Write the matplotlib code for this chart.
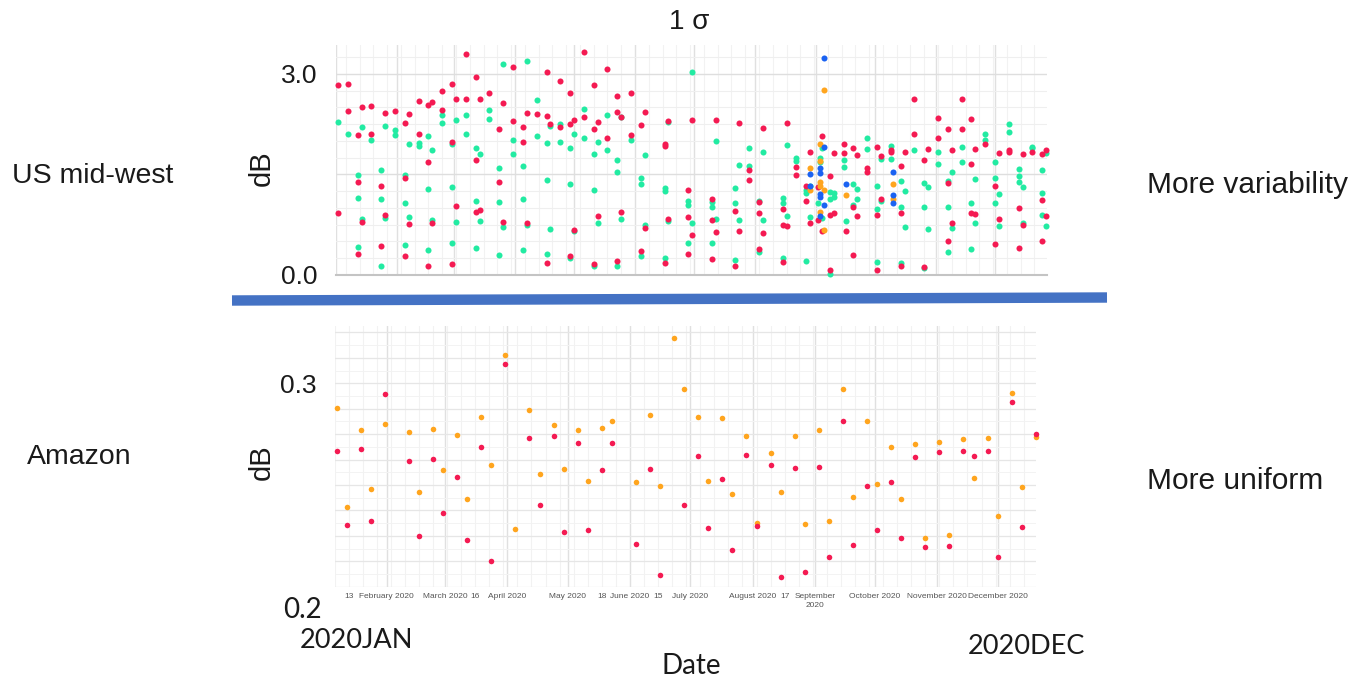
import numpy as np
import matplotlib
matplotlib.use("Agg")
import matplotlib.pyplot as plt
import matplotlib.dates as mdates
from matplotlib.lines import Line2D

# ---------------------------------------------------------------------------
# Data: day offsets from 2020-01-01 and the measured spread in dB
# ---------------------------------------------------------------------------

# US mid-west, series A (red)
mw_a_days = [1, 6, 6, 11, 13, 18, 18, 25, 30, 35, 37, 42, 42, 47, 49, 54, 54, 59, 61, 66,
             66, 71, 73, 78, 85, 90, 90, 83, 59, 71, 47, 11, 23, 35, 83, 61, 71, 73, 1, 13,
             25, 37, 49, 85, 23, 11, 35, 47, 59,
             95, 95, 97, 97, 102, 107, 107, 107, 109, 114, 114, 119, 119, 119, 121, 121, 126,
             126, 131, 131, 131, 133, 133, 138, 138, 143, 143, 143, 145, 145, 150, 150, 155,
             155, 157, 157, 167, 167, 167, 169, 169, 179, 179, 179, 181, 181,
             193, 205, 217, 229, 191, 191, 193, 191, 203, 205, 203, 210, 210, 215, 215, 217,
             215, 227, 227, 229, 227, 234, 234, 239, 239, 241, 241, 245, 245, 247, 247, 251,
             251, 251, 253, 253, 258, 258, 263, 263, 263, 265, 265, 270, 270, 259,
             275, 275, 275, 277, 277, 282, 282, 287, 287, 287, 289, 294, 294, 299, 299, 301,
             306, 306, 311, 311, 311, 313, 313, 318, 318, 323, 323, 323, 325, 325, 330, 335,
             335, 337, 337, 342, 342, 347, 347, 349, 349, 354, 359, 359, 359, 361, 361]
mw_a_db = [2.84, 2.85, 2.44, 2.09, 2.50, 2.52, 2.10, 2.41, 2.45, 2.26, 2.40, 2.60, 2.10, 2.53,
           2.58, 2.75, 2.46, 2.85, 2.63, 3.30, 2.62, 2.96, 2.62, 2.72, 2.57, 3.10, 2.30, 2.18,
           1.99, 1.71, 1.69, 1.38, 1.33, 1.45, 1.39, 1.03, 0.94, 0.97, 0.93, 0.79, 0.90, 0.76,
           0.77, 0.79, 0.43, 0.32, 0.28, 0.13, 0.17,
           2.20, 1.99, 2.41, 0.77, 2.40, 3.02, 2.37, 0.18, 2.25, 2.89, 2.21, 2.72, 2.25, 0.29,
           2.31, 0.67, 3.32, 2.35, 2.83, 2.17, 0.17, 2.28, 0.88, 3.07, 2.05, 2.67, 2.43, 0.21,
           2.36, 0.94, 2.71, 2.09, 2.24, 0.36, 2.43, 0.70, 1.95, 1.92, 0.18, 2.30, 0.83, 1.27,
           0.86, 0.32, 2.31, 0.60,
           2.31, 2.26, 2.19, 2.27, 1.13, 0.82, 0.64, 0.24, 0.96, 0.66, 0.14, 1.56, 1.41, 1.09,
           0.92, 0.62, 0.39, 0.98, 0.75, 0.73, 0.19, 1.61, 1.49, 1.33, 1.10, 1.84, 0.78, 1.31,
           0.82, 2.07, 0.66, 1.48, 0.90, 0.07, 1.82, 0.93, 1.95, 1.82, 1.89, 1.01, 0.30, 1.79,
           0.88, 1.59, 1.54, 0.66,
           1.91, 0.90, 0.07, 1.77, 1.13, 1.87, 1.84, 1.62, 0.92, 0.13, 1.83, 2.63, 2.11, 1.72,
           0.12, 1.88, 2.34, 2.04, 2.17, 1.37, 0.50, 1.87, 0.78, 2.62, 2.17, 2.33, 1.65, 0.92,
           1.88, 0.91, 1.95, 1.33, 0.46, 1.82, 0.84, 1.87, 1.84, 1.00, 0.41, 1.81, 0.75, 1.84,
           1.81, 1.12, 0.50, 1.87, 0.88]

# US mid-west, series B (green)
mw_b_days = [1, 6, 11, 11, 11, 13, 13, 18, 23, 23, 23, 25, 25, 30, 30, 35, 35, 35, 37, 37,
             42, 42, 47, 47, 47, 49, 49, 54, 54, 59, 59, 59, 61, 61, 66, 66, 71, 71, 71, 73,
             73, 78, 78, 83, 83, 83, 85, 85, 90, 90,
             95, 95, 95, 97, 97, 102, 102, 107, 107, 107, 109, 109, 114, 114, 119, 119, 119,
             121, 121, 126, 126, 131, 131, 131, 133, 133, 138, 138, 143, 143, 143, 145, 145,
             150, 155, 155, 155, 157, 157, 167, 167, 167, 169, 169, 179, 179, 179, 181, 181,
             193, 191, 191, 193, 191, 203, 203, 205, 205, 203, 210, 210, 215, 217, 217, 215,
             227, 227, 229, 229, 227, 234, 234, 239, 239, 239, 241, 241, 246, 246, 247, 247,
             245, 251, 253, 253, 251, 258, 258, 259, 263, 263, 265, 265, 270, 270, 251,
             275, 275, 275, 277, 277, 282, 282, 287, 287, 287, 289, 289, 294, 299, 299, 299,
             301, 301, 306, 306, 311, 311, 311, 313, 313, 318, 318, 323, 323, 325, 325, 330,
             330, 335, 335, 335, 337, 337, 342, 342, 347, 347, 347, 349, 349, 354, 354, 359,
             359, 359, 361, 361]
mw_b_db = [2.28, 2.11, 1.49, 1.15, 0.42, 2.21, 0.83, 2.02, 1.56, 1.13, 0.14, 2.22, 0.85, 2.16,
           2.09, 1.49, 1.08, 0.44, 1.96, 0.87, 1.97, 1.93, 2.07, 1.28, 0.38, 1.87, 0.82, 2.38,
           2.27, 1.95, 1.31, 0.47, 2.31, 0.79, 2.39, 2.10, 1.90, 1.10, 0.40, 1.80, 0.81, 2.46,
           2.32, 1.60, 1.09, 0.30, 3.14, 0.72, 2.02, 1.80,
           1.63, 1.13, 0.37, 3.19, 0.74, 2.61, 2.07, 1.97, 1.41, 0.31, 2.22, 0.68, 2.25, 1.98,
           1.89, 1.36, 0.26, 2.11, 0.65, 2.47, 2.05, 1.81, 1.27, 0.13, 1.98, 0.77, 2.39, 1.87,
           1.72, 1.54, 0.13, 2.35, 0.84, 2.01, 1.45, 1.35, 0.28, 1.79, 0.75, 1.30, 1.26, 0.25,
           2.28, 0.81, 1.10, 1.05, 0.47, 3.02, 0.77,
           2.00, 1.09, 1.01, 0.84, 0.48, 1.29, 1.08, 1.64, 0.82, 0.23, 1.90, 1.62, 1.11, 1.84,
           0.82, 0.35, 1.15, 1.08, 1.94, 0.88, 0.26, 1.74, 1.70, 1.27, 1.23, 0.21, 0.86, 1.32,
           1.74, 1.69, 1.89, 0.85, 1.08, 1.24, 1.23, 1.17, 1.13, 1.71, 1.61, 0.80, 1.35, 1.05,
           1.28, 1.13, 2.04, 1.88, 0.02,
           1.33, 0.98, 0.20, 1.73, 1.10, 1.93, 1.73, 1.40, 1.02, 0.18, 1.26, 0.71, 1.86, 1.37,
           1.02, 0.11, 1.31, 0.69, 1.84, 1.66, 1.40, 1.02, 0.35, 1.53, 0.70, 1.91, 1.69, 1.08,
           0.39, 1.43, 0.78, 2.11, 2.01, 1.68, 1.44, 1.07, 1.21, 0.73, 2.25, 2.13, 1.58, 1.48,
           1.39, 1.31, 0.77, 1.91, 1.89, 1.57, 1.23, 0.89, 1.82, 0.73]

# US mid-west, series C (orange)
mw_c_days = [248, 246, 241, 246, 246, 246, 241, 248, 246, 248, 259, 283, 283]
mw_c_db = [2.76, 1.96, 1.60, 1.70, 1.38, 1.33, 1.27, 1.27, 0.94, 0.67, 1.20, 1.35, 1.13]

# US mid-west, series D (blue)
mw_d_days = [248, 248, 246, 246, 241, 241, 246, 246, 248, 246, 259, 283, 283, 283]
mw_d_db = [3.23, 1.91, 1.60, 1.52, 1.50, 1.32, 1.21, 1.16, 1.05, 0.88, 1.35, 1.54, 1.19, 1.08]

# Amazon, series A (red)
amz_a_days = [6, 11, 18, 23, 30, 42, 47, 54, 59, 66, 71, 78, 83, 90, 102, 107, 114, 119, 126,
              131, 138, 143, 155, 162, 167, 179, 186, 191, 198, 203, 210, 215, 222, 227, 234,
              239, 246, 251, 258, 263, 270, 275, 282, 287, 294, 299, 306, 311, 318, 323, 330,
              335, 342, 347, 354]
amz_a_db = [0.2706, 0.2380, 0.2713, 0.2397, 0.2951, 0.2662, 0.2332, 0.2671, 0.2434, 0.2591,
            0.2316, 0.2722, 0.2223, 0.3083, 0.2761, 0.2470, 0.2770, 0.2349, 0.2738, 0.2360,
            0.2619, 0.2739, 0.2298, 0.2626, 0.2164, 0.2466, 0.2683, 0.2368, 0.2582, 0.2271,
            0.2687, 0.2376, 0.2643, 0.2154, 0.2630, 0.2176, 0.2635, 0.2239, 0.2834, 0.2293,
            0.2553, 0.2358, 0.2569, 0.2326, 0.2677, 0.2284, 0.2700, 0.2290, 0.2705, 0.2684,
            0.2706, 0.2242, 0.2920, 0.2374, 0.2780]

# Amazon, series C (orange)
amz_c_days = [6, 11, 18, 23, 30, 42, 47, 54, 59, 66, 71, 78, 83, 90, 95, 102, 107, 114, 119,
              126, 131, 138, 143, 155, 162, 167, 174, 179, 186, 191, 198, 203, 210, 215, 222,
              227, 234, 239, 246, 251, 258, 263, 270, 275, 282, 287, 294, 299, 306, 311, 318,
              323, 330, 335, 342, 347, 354]
amz_c_db = [0.2891, 0.2459, 0.2795, 0.2540, 0.2824, 0.2786, 0.2525, 0.2801, 0.2622, 0.2774,
            0.2495, 0.2853, 0.2643, 0.3124, 0.2365, 0.2885, 0.2604, 0.2817, 0.2624, 0.2795,
            0.2575, 0.2805, 0.2837, 0.2569, 0.2863, 0.2553, 0.3198, 0.2974, 0.2852, 0.2575,
            0.2850, 0.2518, 0.2770, 0.2389, 0.2694, 0.2524, 0.2770, 0.2386, 0.2796, 0.2399,
            0.2977, 0.2502, 0.2834, 0.2562, 0.2721, 0.2496, 0.2734, 0.2322, 0.2742, 0.2335,
            0.2757, 0.2584, 0.2760, 0.2418, 0.2956, 0.2546, 0.2766]

# Date axis labels of the lower panel
amz_tick_dates = ["2020-01-13", "2020-02-01", "2020-03-01", "2020-03-16", "2020-04-01",
                  "2020-05-01", "2020-05-18", "2020-06-01", "2020-06-15", "2020-07-01",
                  "2020-08-01", "2020-08-17", "2020-09-01", "2020-10-01", "2020-11-01",
                  "2020-12-01"]
amz_tick_labels = ["13", "February 2020", "March 2020", "16", "April 2020", "May 2020", "18",
                   "June 2020", "15", "July 2020", "August 2020", "17", "September\n2020",
                   "October 2020", "November 2020", "December 2020"]

# ---------------------------------------------------------------------------
RED = "#f41a52"
GREEN = "#22eba2"
ORANGE = "#ffa51e"
BLUE = "#1a62f2"

BASE = np.datetime64("2020-01-01")
BASE_NUM = mdates.date2num(BASE)
W, H = 1355, 682


def to_dates(days):
    return BASE + np.asarray(days).astype("timedelta64[D]")


def fig_box(left, top, right, bottom):
    return [left / W, 1 - bottom / H, (right - left) / W, (bottom - top) / H]


def date_grid(ax):
    mondays = np.arange(np.datetime64("2020-01-06"), np.datetime64("2021-01-01"), 7)
    months = np.arange(np.datetime64("2020-01"), np.datetime64("2021-01"),
                       dtype="datetime64[M]").astype("datetime64[D]")
    for d in mondays:
        ax.axvline(mdates.date2num(d), color="#f2f2f2", lw=0.8, zorder=0)
    for d in months:
        ax.axvline(mdates.date2num(d), color="#e0e0e0", lw=1.0, zorder=0)


SANS = ["Liberation Sans", "DejaVu Sans"]
HUMAN = ["Lato", "DejaVu Sans"]
INK = "#1a1a1a"

fig = plt.figure(figsize=(W / 100, H / 100), dpi=100)
fig.patch.set_facecolor("white")

# --------------------------- upper panel: US mid-west ----------------------
ax1 = fig.add_axes(fig_box(336, 45, 1047, 275))
ax1.set_xlim(BASE_NUM, BASE_NUM + 361.4)
ax1.set_ylim(0, 3.43)
date_grid(ax1)
for y in np.arange(0, 3.5, 0.25):
    strong = abs(y / 1.5 - round(y / 1.5)) < 1e-6
    ax1.axhline(y, color="#dedede" if strong else "#efefef", lw=1.0 if strong else 0.8, zorder=0)

ms = 19
ax1.scatter(to_dates(mw_b_days), mw_b_db, s=ms, color=GREEN, lw=0, zorder=3, clip_on=False)
ax1.scatter(to_dates(mw_a_days), mw_a_db, s=ms, color=RED, lw=0, zorder=3, clip_on=False)
ax1.scatter(to_dates(mw_c_days), mw_c_db, s=ms, color=ORANGE, lw=0, zorder=4, clip_on=False)
ax1.scatter(to_dates(mw_d_days), mw_d_db, s=ms, color=BLUE, lw=0, zorder=5, clip_on=False)

ax1.set_xticks([])
ax1.set_yticks([0.0, 3.0])
ax1.set_yticklabels(["0.0", "3.0"], fontsize=19, family=SANS, color=INK)
ax1.tick_params(axis="y", length=0, pad=13)
for side in ("top", "left", "right"):
    ax1.spines[side].set_visible(False)
ax1.spines["bottom"].set_color("#c4c4c4")
ax1.spines["bottom"].set_linewidth(1.5)

# --------------------------- lower panel: Amazon ---------------------------
ax2 = fig.add_axes(fig_box(335, 326, 1036, 587))
ax2.set_xlim(BASE_NUM + 5.2, BASE_NUM + 354.1)
ax2.set_ylim(0.2110, 0.3250)
date_grid(ax2)
step = 0.1 / 9
for k in range(-9, 3):
    ax2.axhline(0.3 + k * step, color="#e6e6e6", lw=0.9, zorder=0)
    ax2.axhline(0.3 + (k + 0.5) * step, color="#f3f3f3", lw=0.7, zorder=0)

ms2 = 16
ax2.scatter(to_dates(amz_c_days), amz_c_db, s=ms2, color=ORANGE, lw=0, zorder=3, clip_on=False)
ax2.scatter(to_dates(amz_a_days), amz_a_db, s=ms2, color=RED, lw=0, zorder=3, clip_on=False)

ax2.set_xticks(mdates.date2num(np.array(amz_tick_dates, dtype="datetime64[D]")))
ax2.set_xticklabels(amz_tick_labels, fontsize=6, family=SANS, color="#555555", linespacing=1.4)
ax2.tick_params(axis="x", length=0, pad=4)
ax2.set_yticks([0.3])
ax2.set_yticklabels(["0.3"], fontsize=19, family=SANS, color=INK)
ax2.tick_params(axis="y", length=0, pad=13)
for side in ("top", "left", "right", "bottom"):
    ax2.spines[side].set_visible(False)

# --------------------------- separator band -------------------------------
fig.add_artist(Line2D([232 / W, 1107 / W], [1 - 300.5 / H, 1 - 297.5 / H],
                      transform=fig.transFigure, color="#4472c4", lw=7.5,
                      solid_capstyle="butt"))

# --------------------------- annotations ----------------------------------
def ftext(x, y, s, **kw):
    fig.text(x / W, 1 - y / H, s, color=INK, **kw)


ftext(689, 22, "1 σ", fontsize=20, family=SANS, ha="center", va="center")
ftext(12, 176, "US mid-west", fontsize=20.5, family=SANS, ha="left", va="center")
ftext(27, 457, "Amazon", fontsize=20.5, family=SANS, ha="left", va="center")
ftext(1147, 185, "More variability", fontsize=21.5, family=SANS, ha="left", va="center")
ftext(1147, 481, "More uniform", fontsize=21.5, family=SANS, ha="left", va="center")
ftext(262, 168, "dB", fontsize=21, family=SANS, rotation=90, ha="center", va="center")
ftext(262, 462, "dB", fontsize=21, family=SANS, rotation=90, ha="center", va="center")
ftext(322, 610, "0.2", fontsize=20, family=HUMAN, ha="right", va="center")
ftext(300, 640, "2020JAN", fontsize=19.5, family=HUMAN, ha="left", va="center")
ftext(968, 647, "2020DEC", fontsize=19.5, family=HUMAN, ha="left", va="center")
ftext(691, 666, "Date", fontsize=20, family=HUMAN, ha="center", va="center")

fig.savefig("out.png", dpi=100, facecolor="white")
